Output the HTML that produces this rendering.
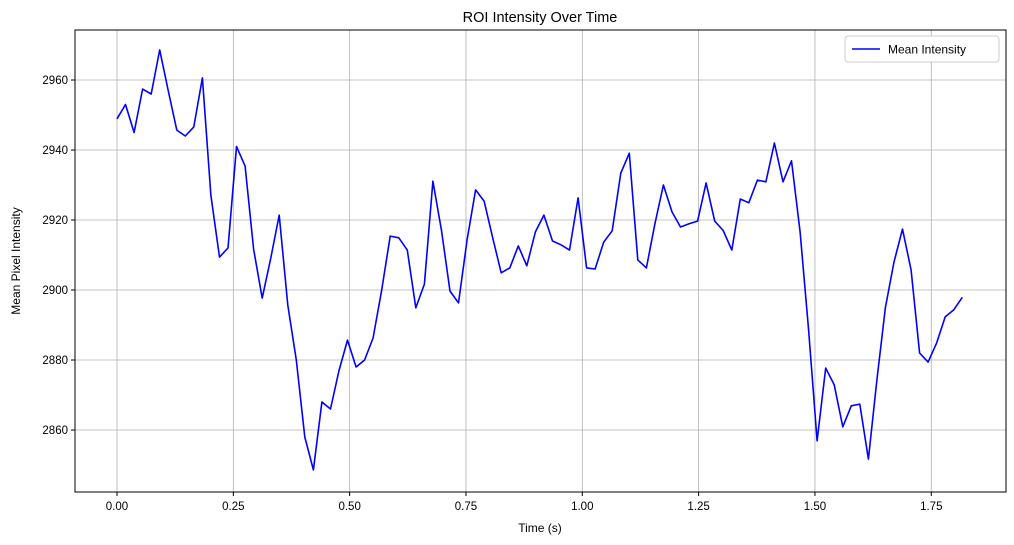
<!DOCTYPE html>
<html><head><meta charset="utf-8"><style>
html,body{margin:0;padding:0;background:#fff;}
svg{display:block;font-family:"Liberation Sans","DejaVu Sans",sans-serif;}
</style></head><body>
<svg id="chart" width="1014" height="545" viewBox="0 0 1014 545">
<rect x="0" y="0" width="1014" height="545" fill="#fff"/>
<g id="grid"></g>
<g id="xticks"></g>
<g id="yticks"></g>
<polyline id="series" fill="none" stroke="#0000ff" stroke-width="1.6" stroke-linejoin="round"/>
<rect x="75" y="30" width="931" height="462" fill="none" stroke="#000" stroke-width="1"/>
<text x="540" y="22" text-anchor="middle" font-size="14.5">ROI Intensity Over Time</text>
<text x="540" y="532" text-anchor="middle" font-size="12">Time (s)</text>
<text transform="translate(20,261) rotate(-90)" text-anchor="middle" font-size="12">Mean Pixel Intensity</text>
<g>
<rect x="845" y="36" width="154" height="26" rx="3" fill="#fff" stroke="#ccc"/>
<line x1="852" y1="49" x2="880" y2="49" stroke="#0000ff" stroke-width="1.6"/>
<text x="888" y="53.5" font-size="12">Mean Intensity</text>
</g>
</svg>
<script>
const xTicks=[0,0.25,0.5,0.75,1.0,1.25,1.5,1.75];
const xTickLabels=["0.00","0.25","0.50","0.75","1.00","1.25","1.50","1.75"];
const yTicks=[2860,2880,2900,2920,2940,2960];
const timeStep=0.01835;
const intensity=[2948.9,2953,2945,2957.4,2956,2968.6,2957,2945.7,2944,2946.6,2960.6,2927,2909.4,2912,2941,2935.4,2911.7,2897.7,2909,2921.4,2895.7,2880,2858,2848.6,2868,2866,2877,2885.7,2878,2880,2886.3,2900,2915.4,2914.9,2911.4,2894.9,2901.7,2931.1,2917,2899.7,2896.3,2914.3,2928.6,2925.4,2914.9,2904.9,2906.3,2912.6,2906.9,2916.6,2921.4,2914,2912.9,2911.4,2926.3,2906.3,2906,2913.7,2916.9,2933.4,2939.1,2908.6,2906.3,2918.9,2930,2922.3,2918,2918.9,2919.7,2930.6,2919.7,2917,2911.4,2926,2924.9,2931.4,2930.9,2942,2930.9,2936.9,2916.6,2888.6,2856.9,2877.7,2872.9,2860.9,2866.9,2867.4,2851.7,2874.3,2895,2908,2917.4,2905.7,2882,2879.4,2884.9,2892.3,2894.3,2897.9];
const L=75,R=1006,T=30,B=492;
const xs=t=>117+t*465.3;
const ys=v=>80+(2960-v)*3.5;
const NS="http://www.w3.org/2000/svg";
function mk(tag,attrs,parent){const e=document.createElementNS(NS,tag);for(const k in attrs)e.setAttribute(k,attrs[k]);parent.appendChild(e);return e;}
const grid=document.getElementById('grid'),xg=document.getElementById('xticks'),yg=document.getElementById('yticks');
xTicks.forEach((t,i)=>{const x=xs(t);
const g=mk('line',{x1:x,x2:x,y1:T,y2:B,stroke:'#b0b0b0','stroke-width':0.8},grid);


const tk=mk('line',{x1:x,x2:x,y1:B,y2:B+4,stroke:'#000'},xg);


const tx=mk('text',{x:x,y:B+18,'text-anchor':'middle','font-size':11.5},xg);tx.textContent=xTickLabels[i];

});
yTicks.forEach(v=>{const y=ys(v);
const g=mk('line',{x1:L,x2:R,y1:y,y2:y,stroke:'#b0b0b0','stroke-width':0.8},grid);


const tk=mk('line',{x1:L-4,x2:L,y1:y,y2:y,stroke:'#000'},yg);


const tx=mk('text',{x:L-7,y:y+4,'text-anchor':'end','font-size':11.5},yg);tx.textContent=String(v);

});
document.getElementById('series').setAttribute('points',intensity.map((v,i)=>xs(i*timeStep).toFixed(1)+','+ys(v).toFixed(1)).join(' '));
</script>
</body></html>
